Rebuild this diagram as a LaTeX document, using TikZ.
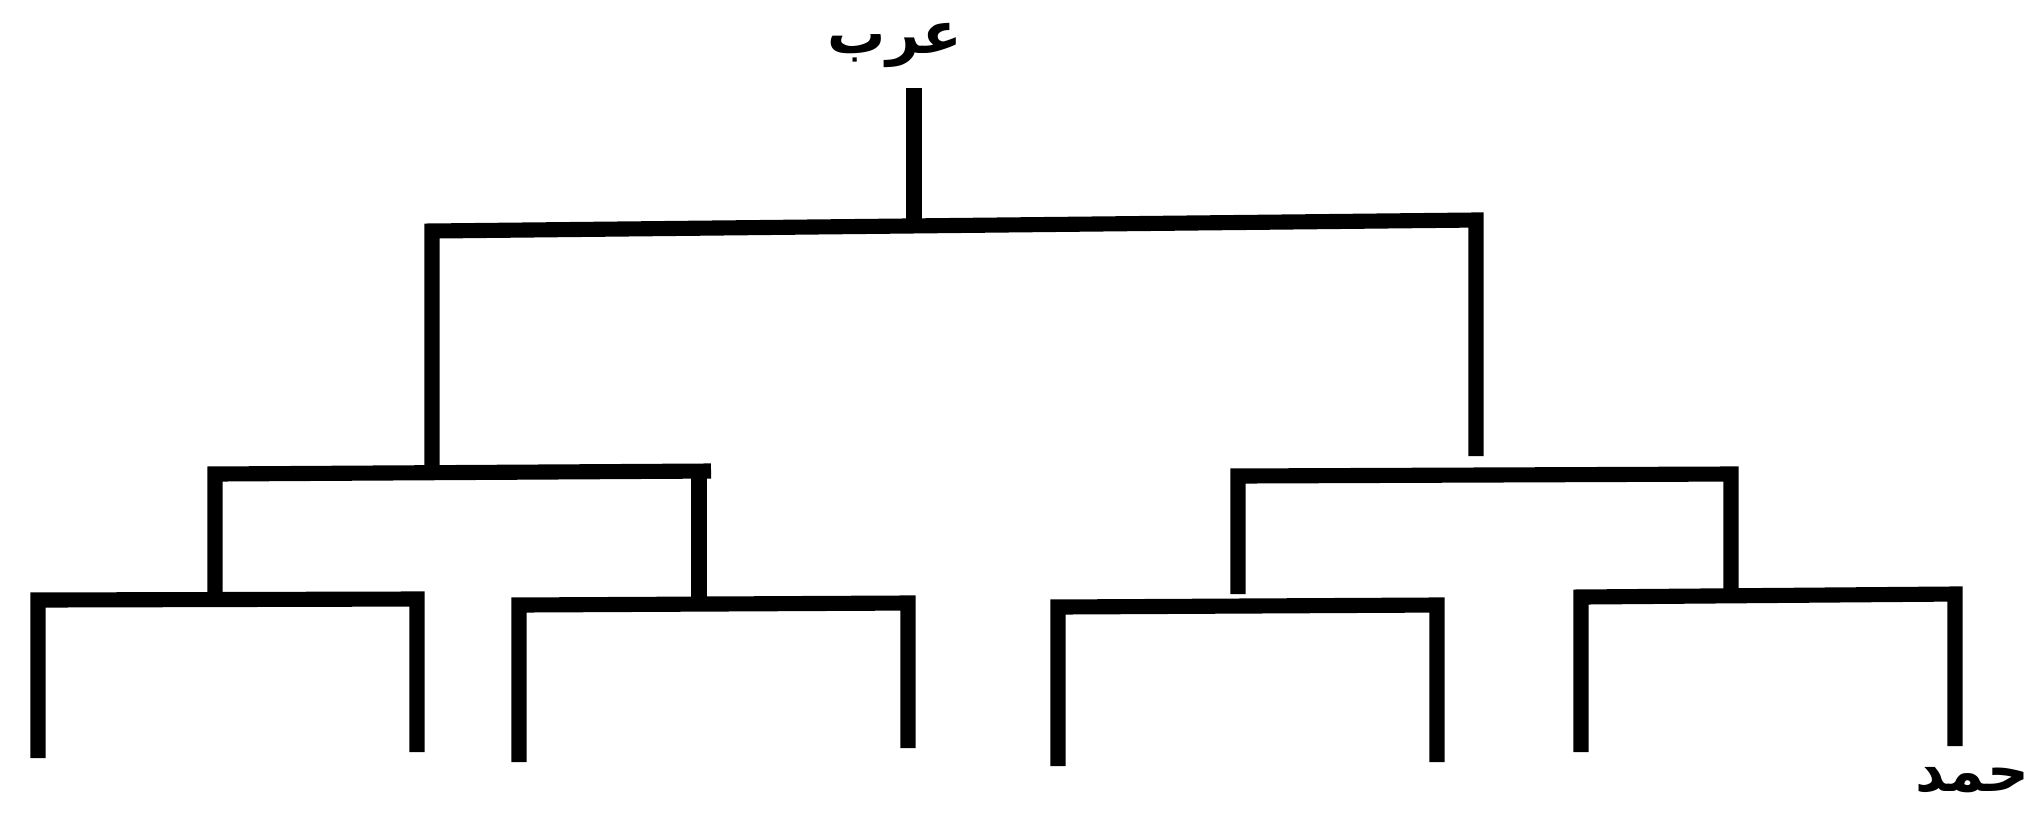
\documentclass[tikz,border=0pt]{standalone}
\usepackage{fontspec}
\newfontfamily\arabicfont[Script=Arabic]{DejaVu Sans Bold}
\TeXXeTstate=1
\begin{document}
\begin{tikzpicture}[x=0.01cm,y=-0.01cm,
  branch/.style={line width=4.3pt,line cap=butt,line join=miter},
  lbl/.style={font=\arabicfont\fontsize{16.5pt}{18pt}\selectfont,inner sep=0pt}]
\useasboundingbox[fill=white] (0,0) rectangle (2033,814);
% labels
\node[lbl] (top) at (895,45) {\beginR عرب\endR};
\node[lbl,anchor=east] (leaf) at (2030,780) {\beginR حمد\endR};
% junction coordinates
\coordinate (r0) at (914,88);
\coordinate (rj) at (914,226);
\coordinate (tl) at (432,231);
\coordinate (tr) at (1476,220);
\coordinate (lme) at (432,469);
\coordinate (rme) at (1476,456);
% root
\draw[branch] (r0) -- (rj);
\draw[branch] (lme) -- (tl) -- (tr) -- (rme);
% left middle bracket
\draw[branch] (215,599) -- (215,474) -- (711,471);
\draw[branch] (699,471) -- (699,602);
% right middle bracket
\coordinate (rm1) at (1238,594);
\coordinate (rm2) at (1731,591);
\draw[branch] (rm1) -- (1238,476) -- (1731,474) -- (rm2);
% bottom brackets
\draw[branch] (38,758) -- (38,600) -- (417,599) -- (417,752);
\draw[branch] (519,762) -- (519,605) -- (908,603) -- (908,748);
\draw[branch] (1058,766) -- (1058,607) -- (1437,605) -- (1437,762);
\draw[branch] (1581,752) -- (1581,597) -- (1955,594) -- (1955,746);
\end{tikzpicture}
\end{document}
